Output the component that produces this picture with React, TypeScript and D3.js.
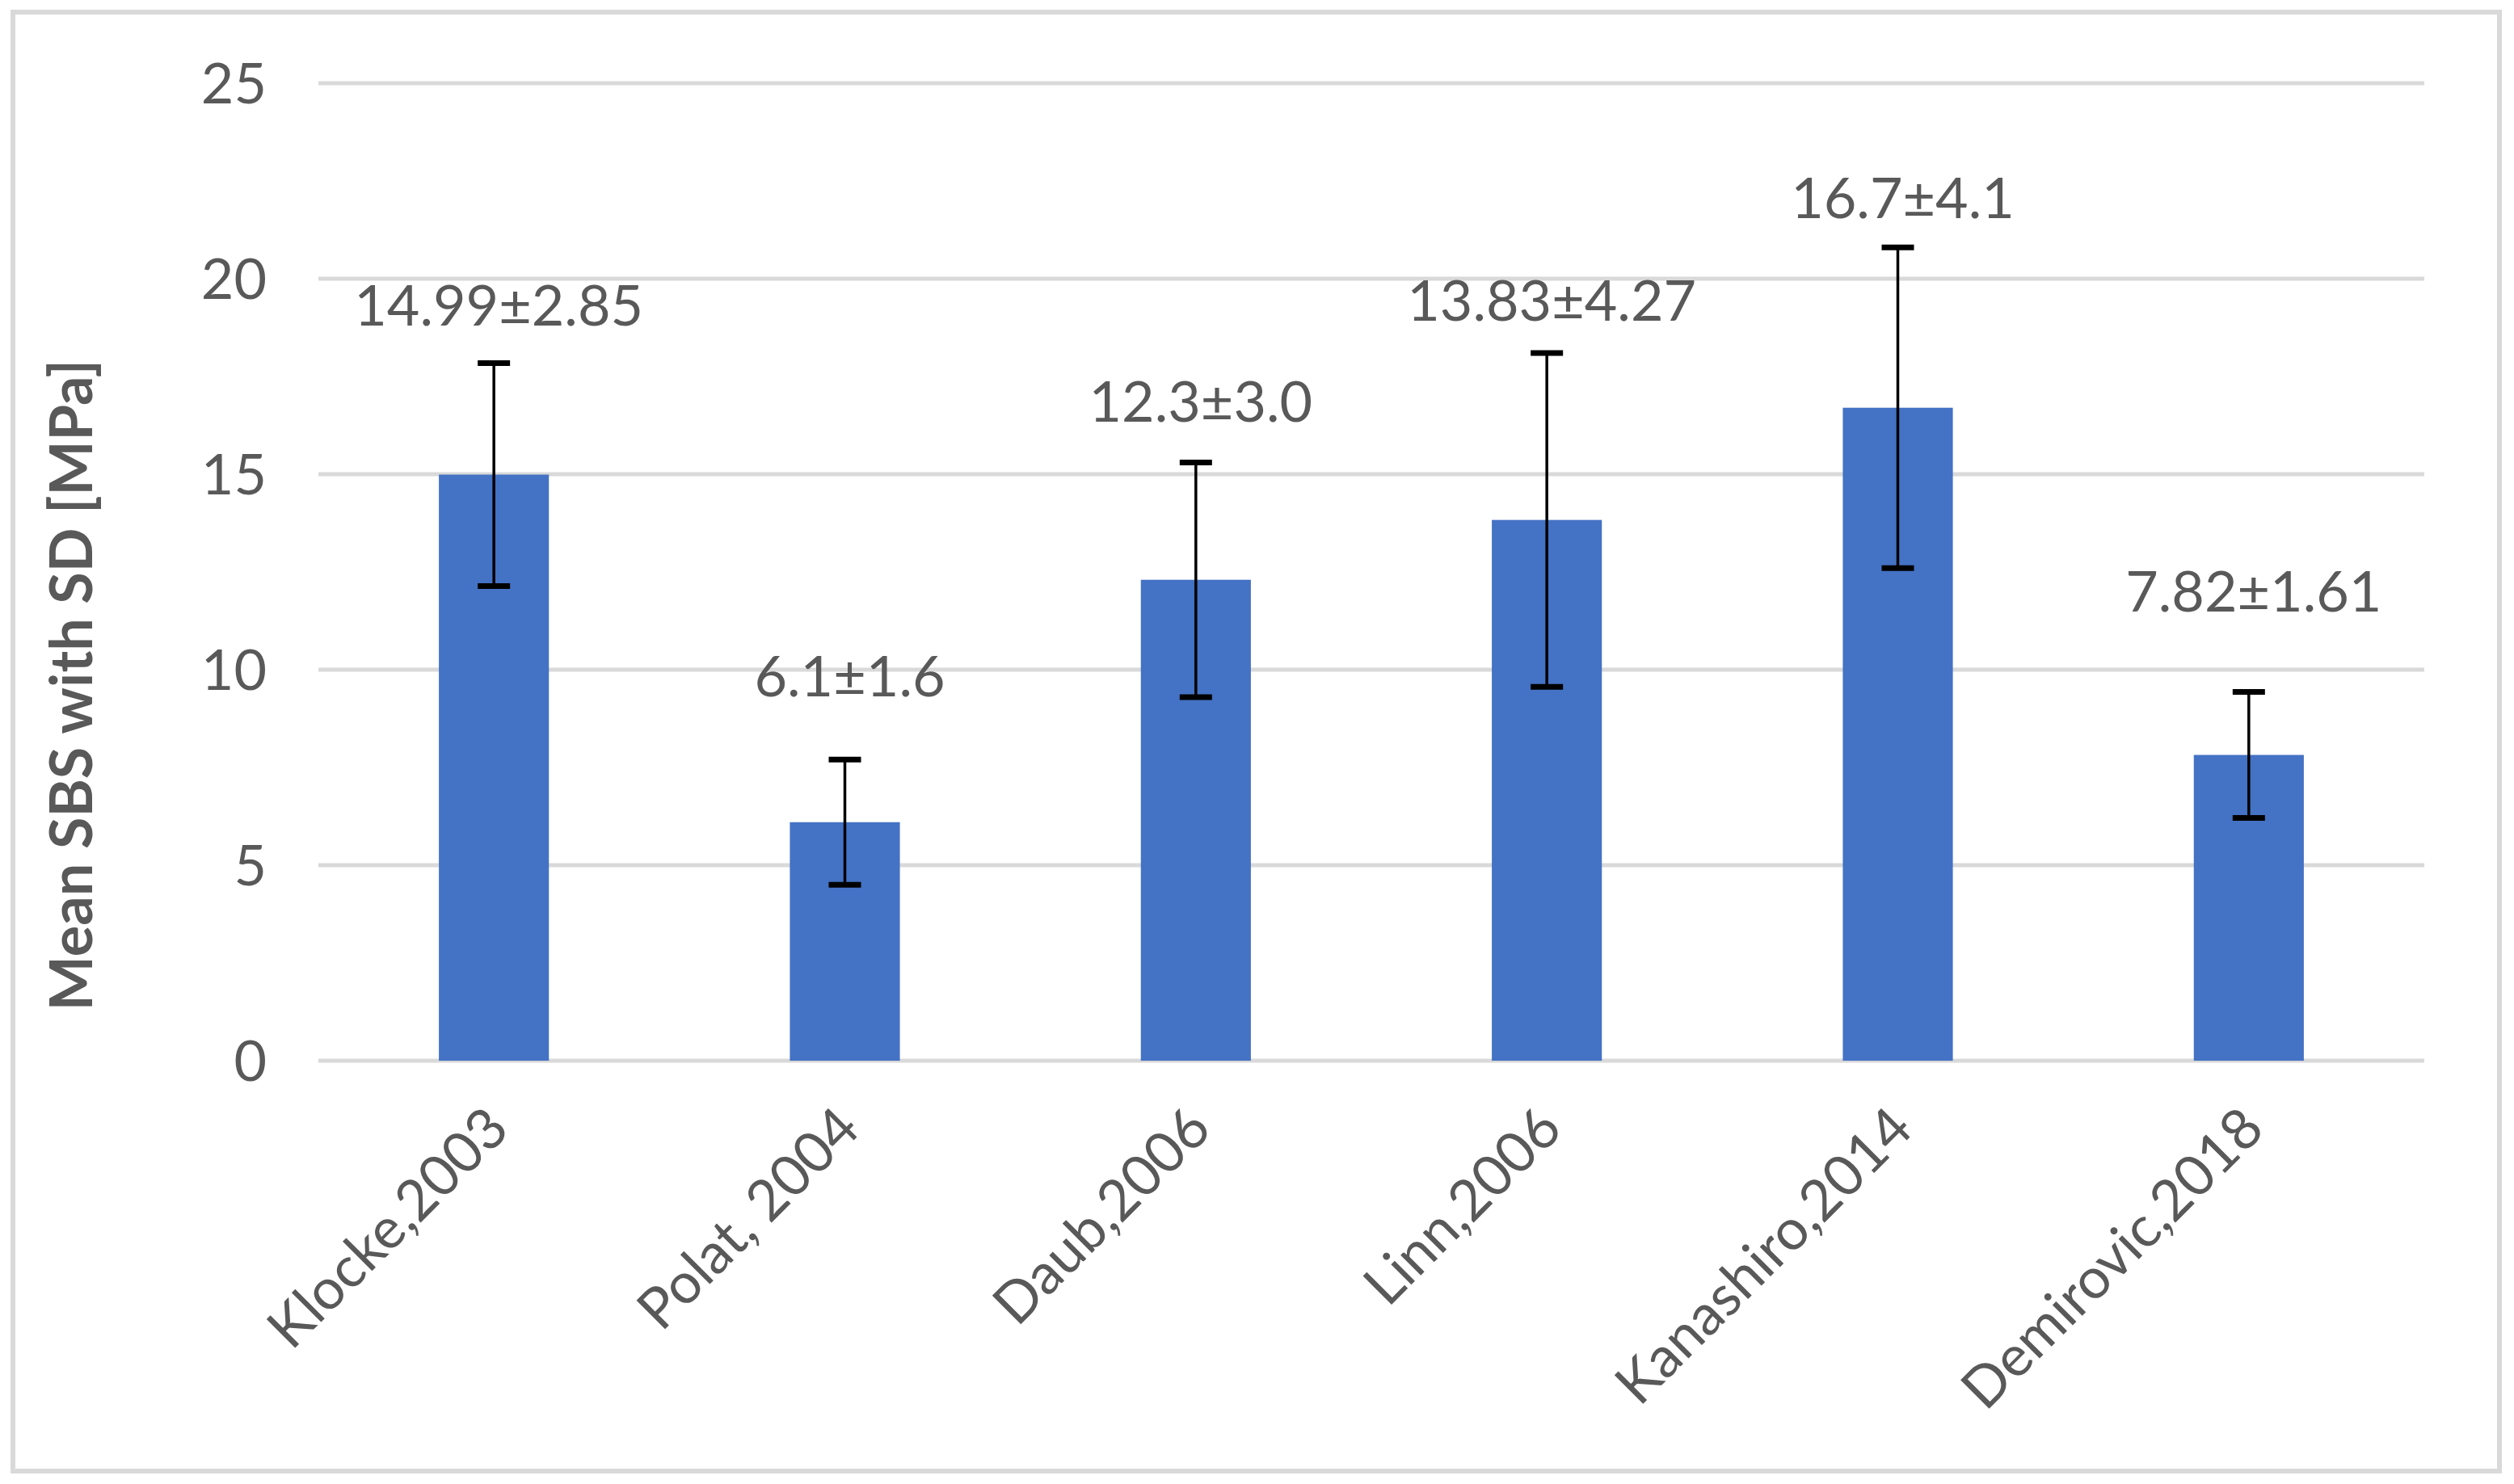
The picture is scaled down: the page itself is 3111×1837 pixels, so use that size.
import { useEffect, useRef } from "react";
import * as d3 from "d3";

const studies = [
  "Klocke,2003",
  "Polat, 2004",
  "Daub,2006",
  "Linn,2006",
  "Kanashiro,2014",
  "Demirovic,2018",
];
const meanSbs = [14.99, 6.1, 12.3, 13.83, 16.7, 7.82];
const sdSbs = [2.85, 1.6, 3.0, 4.27, 4.1, 1.61];
const valueLabels = [
  "14.99±2.85",
  "6.1±1.6",
  "12.3±3.0",
  "13.83±4.27",
  "16.7±4.1",
  "7.82±1.61",
];
// where each label sits, in MPa (labels were placed by hand in the original)
const labelAt = [19.33, 9.83, 16.86, 19.44, 22.08, 12.01];
const yTicks = [0, 5, 10, 15, 20, 25];

const W = 3111;
const H = 1837;

const App = () => {
  const svgRef = useRef<SVGSVGElement>(null);

  useEffect(() => {
    if (!svgRef.current) return;
    const svg = d3.select(svgRef.current);
    svg.selectAll("*").remove();

    const font = "Lato, 'Open Sans', sans-serif";
    const textColor = "#595959";

    const x = d3.scaleBand<string>().domain(studies).range([394, 3000]);
    const y = d3.scaleLinear().domain([0, 25]).range([1313, 103]);
    const barW = x.bandwidth() / 3.19;

    svg
      .append("rect")
      .attr("x", 16)
      .attr("y", 15)
      .attr("width", 3077)
      .attr("height", 1806)
      .attr("fill", "white")
      .attr("stroke", "#d9d9d9")
      .attr("stroke-width", 6);

    // gridlines + axis line
    svg
      .append("g")
      .selectAll("line")
      .data(yTicks)
      .enter()
      .append("line")
      .attr("x1", x.range()[0])
      .attr("x2", x.range()[1])
      .attr("y1", (d) => y(d))
      .attr("y2", (d) => y(d))
      .attr("stroke", "#d9d9d9")
      .attr("stroke-width", 5);

    svg
      .append("g")
      .selectAll("text")
      .data(yTicks)
      .enter()
      .append("text")
      .attr("x", 330)
      .attr("y", (d) => y(d))
      .attr("dy", "0.36em")
      .attr("text-anchor", "end")
      .attr("font-family", font)
      .attr("font-size", 70)
      .attr("fill", textColor)
      .text((d) => d);

    const bars = svg
      .append("g")
      .selectAll("g")
      .data(studies)
      .enter()
      .append("g");

    bars
      .append("rect")
      .attr("x", (d) => (x(d) as number) + x.bandwidth() / 2 - barW / 2)
      .attr("y", (_, i) => y(meanSbs[i]))
      .attr("width", barW)
      .attr("height", (_, i) => y(0) - y(meanSbs[i]))
      .attr("fill", "#4472c4");

    const cx = (d: string) => (x(d) as number) + x.bandwidth() / 2;

    // error bars
    bars
      .append("line")
      .attr("x1", cx)
      .attr("x2", cx)
      .attr("y1", (_, i) => y(meanSbs[i] + sdSbs[i]))
      .attr("y2", (_, i) => y(meanSbs[i] - sdSbs[i]))
      .attr("stroke", "black")
      .attr("stroke-width", 3.5);

    [1, -1].forEach((sign) => {
      bars
        .append("line")
        .attr("x1", (d) => cx(d) - 20)
        .attr("x2", (d) => cx(d) + 20)
        .attr("y1", (_, i) => y(meanSbs[i] + sign * sdSbs[i]))
        .attr("y2", (_, i) => y(meanSbs[i] + sign * sdSbs[i]))
        .attr("stroke", "black")
        .attr("stroke-width", 7);
    });

    bars
      .append("text")
      .attr("x", (d) => cx(d) + 6)
      .attr("y", (_, i) => y(labelAt[i]))
      .attr("dy", "0.36em")
      .attr("text-anchor", "middle")
      .attr("font-family", font)
      .attr("font-size", 70)
      .attr("fill", textColor)
      .text((_, i) => valueLabels[i]);

    // rotated category labels
    bars
      .append("text")
      .attr(
        "transform",
        (d) => `translate(${cx(d) + 4},${y(0) + 70}) rotate(-45)`,
      )
      .attr("dy", "0.36em")
      .attr("text-anchor", "end")
      .attr("font-family", font)
      .attr("font-size", 70)
      .attr("fill", textColor)
      .text((d) => d);

    svg
      .append("text")
      .attr("transform", `translate(88,${(y(0) + y(25)) / 2 + 140}) rotate(-90)`)
      .attr("dy", "0.36em")
      .attr("text-anchor", "middle")
      .attr("font-family", font)
      .attr("font-size", 72)
      .attr("font-weight", 700)
      .attr("fill", textColor)
      .text("Mean SBS with SD [MPa]");
  }, []);

  return (
    <div style={{ position: "absolute", left: 0, top: 0, background: "white" }}>
      <svg ref={svgRef} width={W} height={H} style={{ display: "block" }} />
    </div>
  );
};

export default App;
